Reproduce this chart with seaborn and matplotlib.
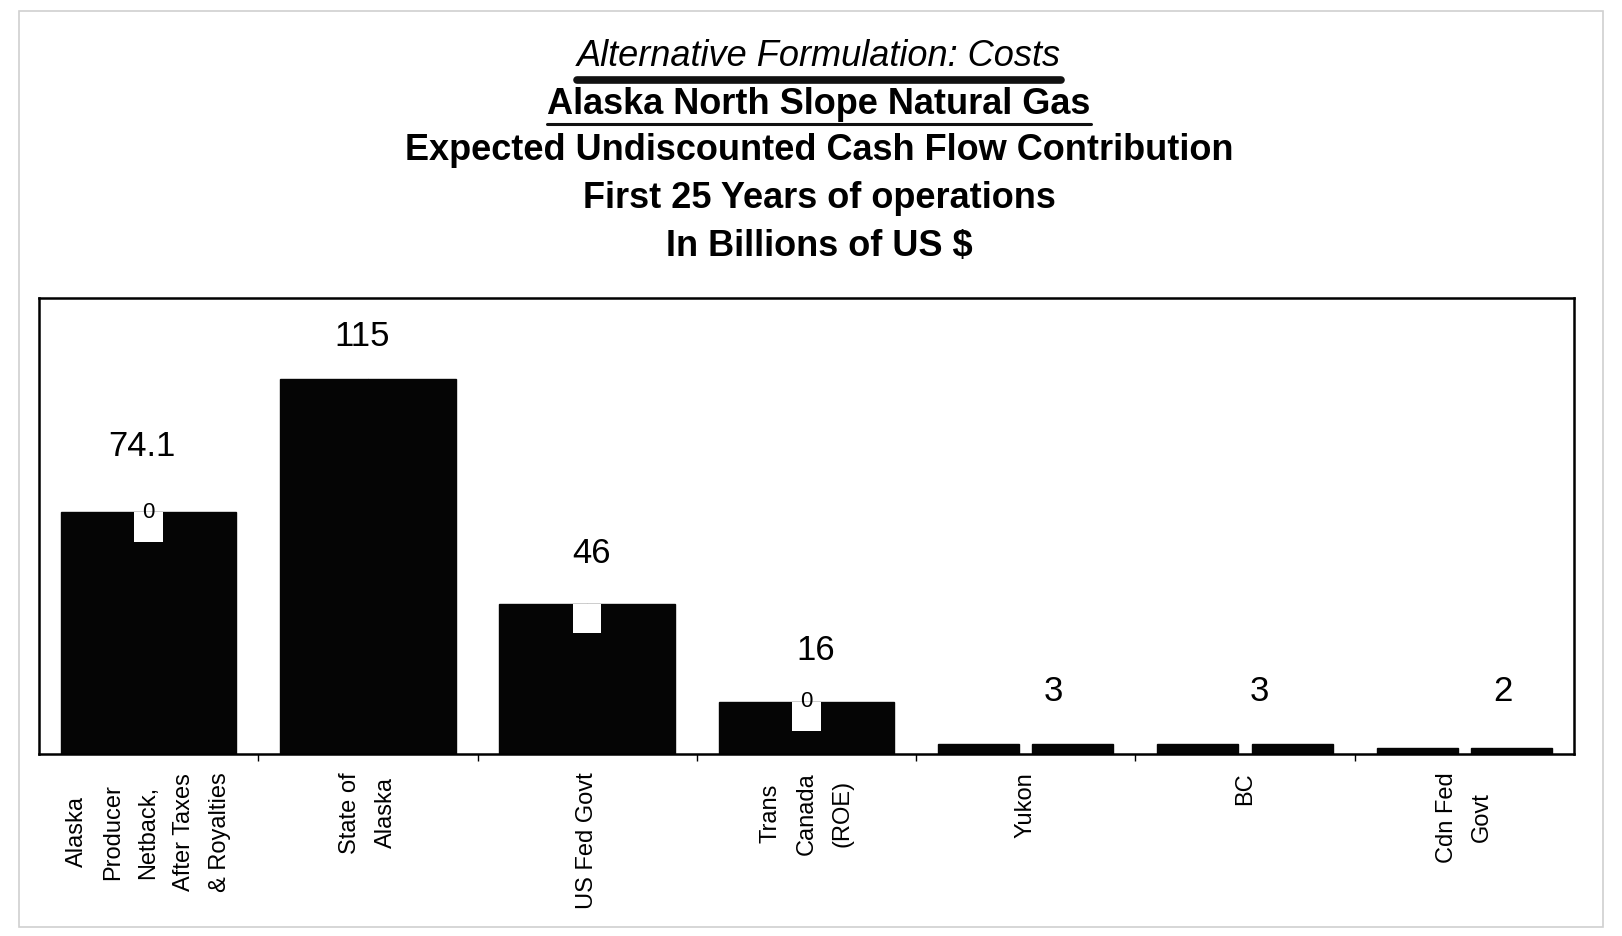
import numpy as np
import pandas as pd
import matplotlib
matplotlib.use("Agg")
import matplotlib.pyplot as plt
import seaborn as sns
from matplotlib.lines import Line2D
from matplotlib.patches import Rectangle

categories = ["Alaska\nProducer\nNetback,\nAfter Taxes\n& Royalties", "State of\nAlaska", "US Fed Govt",
              "Trans\nCanada\n(ROE)", "Yukon", "BC", "Cdn Fed\nGovt"]
left_values = [74.1, 115, 46, 16, 3, 3, 2]
right_values = [74.1, 115, 46, 16, 3, 3, 2]
value_labels = ["74.1", "115", "46", "16", "3", "3", "2"]
zero_labels = ["0", None, "", "0", None, None, None]

titles = ["Alternative Formulation: Costs", "Alaska North Slope Natural Gas",
          "Expected Undiscounted Cash Flow Contribution", "First 25 Years of operations",
          "In Billions of US $"]

# label nudges (points) - the original labels are not quite centred
label_dx = [-5, -4, 3, 7, 20, 10, 28]
label_dy = [47, 30, 36, 37, 38, 38, 40]

sns.set_theme(style="white")
plt.rcParams['font.family'] = ['Liberation Sans', 'DejaVu Sans']
plt.rcParams['text.color'] = 'black'
plt.rcParams['xtick.color'] = 'black'
plt.rcParams['xtick.labelcolor'] = 'black'

df = pd.DataFrame({
    "cat": categories * 2,
    "part": ["a"] * len(categories) + ["b"] * len(categories),
    "value": left_values + right_values,
})

fig = plt.figure(figsize=(16.22, 9.36), dpi=100)
ax = fig.add_axes([0.024, 0.1944, 0.9464, 0.4872])

sns.barplot(data=df, x="cat", y="value", hue="part", order=categories,
            palette=["#050505", "#050505"], width=0.8, gap=0,
            legend=False, ax=ax, saturation=1, edgecolor="#050505", linewidth=1)

# the short bars show a visible split between the two halves
n = len(categories)
for j, p in enumerate(ax.patches[:2 * n]):
    if p.get_height() < 10:
        p.set_width(p.get_width() - 0.03)
        if j >= n:
            p.set_x(p.get_x() + 0.03)

# white notch where the "0" label of the hidden middle series sits
notch_depth = 9
for i, z in enumerate(zero_labels):
    if z is None:
        continue
    ax.bar(i, notch_depth, bottom=left_values[i] - notch_depth, width=0.13,
           color="white", linewidth=0, zorder=3)
    if z:
        ax.text(i, left_values[i], z, ha="center", va="center", fontsize=16, zorder=4)

for i, lab in enumerate(value_labels):
    ax.annotate(lab, (i, max(left_values[i], right_values[i])),
                xytext=(label_dx[i], label_dy[i]), textcoords="offset points",
                ha="center", va="center", fontsize=25)

ax.set_xlim(-0.5, n - 0.5)
ax.set_ylim(0, 139.7)
ax.set_yticks([])
ax.set_xlabel("")
ax.set_ylabel("")
ax.set_xticks(range(n))
ax.set_xticklabels(categories, rotation=90, fontsize=17, linespacing=1.8)
ax.tick_params(axis="x", which="major", length=0, pad=13)
ax.set_xticks(np.arange(0.5, n - 1, 1), minor=True)
ax.tick_params(axis="x", which="minor", length=5, width=1, color="black", direction="out", bottom=True)
for s in ax.spines.values():
    s.set_color("black")
    s.set_linewidth(1.8)
    s.set_visible(True)

ys = [0.940, 0.888, 0.839, 0.788, 0.737]
texts = []
for k, (t, y) in enumerate(zip(titles, ys)):
    style = "italic" if k == 0 else "normal"
    weight = "normal" if k == 0 else "bold"
    texts.append(fig.text(0.505, y, t, ha="center", va="center", fontsize=26,
                          fontstyle=style, fontweight=weight, color="black"))

# underline the first two title lines
fig.canvas.draw()
r = fig.canvas.get_renderer()
inv = fig.transFigure.inverted()
for txt, lw, off in [(texts[0], 5.5, 0.025), (texts[1], 2.2, 0.021)]:
    bb = txt.get_window_extent(r).transformed(inv)
    yl = txt.get_position()[1] - off
    fig.add_artist(Line2D([bb.x0, bb.x1], [yl, yl], color="#111111", lw=lw, transform=fig.transFigure))

# faint scan border
fig.add_artist(Rectangle((0.012, 0.01), 0.976, 0.978, fill=False, ec="#d0d0d0", lw=1.2,
                         transform=fig.transFigure))

fig.savefig("out.png", dpi=100)
